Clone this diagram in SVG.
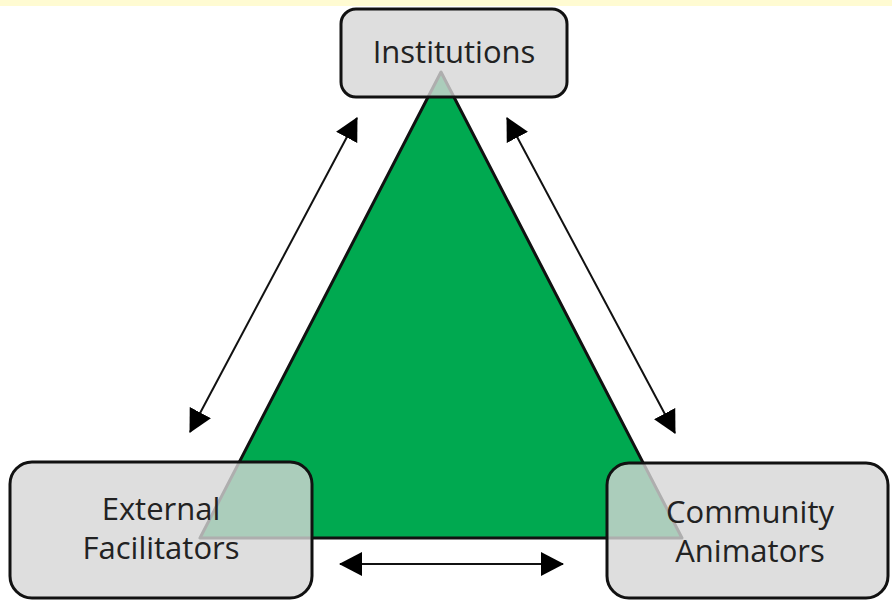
<svg xmlns="http://www.w3.org/2000/svg" width="892" height="601" viewBox="0 0 892 601">
<style>
.box{fill:#d6d6d6;fill-opacity:0.8;stroke:#111;stroke-width:3}
.lbl{font-family:"Open Sans","Liberation Sans",sans-serif;font-size:31px;fill:#222;text-anchor:middle}
.conn{stroke:#111;stroke-width:2;fill:none;marker-start:url(#ah);marker-end:url(#ah)}
</style>
<defs>
<marker id="ah" viewBox="0 0 23 24" refX="22" refY="12" markerWidth="23" markerHeight="24" markerUnits="userSpaceOnUse" orient="auto-start-reverse">
<path d="M0,0 L23,12 L0,24 Z" fill="#000"/>
</marker>
</defs>
<rect x="0" y="0" width="892" height="601" fill="#fff"/>
<rect x="0" y="0" width="892" height="6" fill="#fffbd2"/>
<g id="triangle">
<polygon points="441,72 200,538 682,538" fill="#00a950" stroke="#111" stroke-width="3" stroke-linejoin="round"/>
</g>
<g id="connectors">
<line class="conn" x1="190" y1="432" x2="357" y2="118"/>
<line class="conn" x1="507" y1="118" x2="675" y2="433"/>
<line class="conn" x1="340" y1="564" x2="563" y2="564"/>
</g>
<g id="institutions">
<rect class="box" x="341" y="9" width="226" height="88" rx="15"/>
<text class="lbl" x="454" y="63">Institutions</text>
</g>
<g id="external-facilitators">
<rect class="box" x="10" y="462" width="302" height="136" rx="22"/>
<text class="lbl" x="161" y="520">External</text>
<text class="lbl" x="161" y="559">Facilitators</text>
</g>
<g id="community-animators">
<rect class="box" x="607" y="463" width="281" height="135" rx="22"/>
<text class="lbl" x="750" y="523">Community</text>
<text class="lbl" x="750" y="562">Animators</text>
</g>
</svg>
